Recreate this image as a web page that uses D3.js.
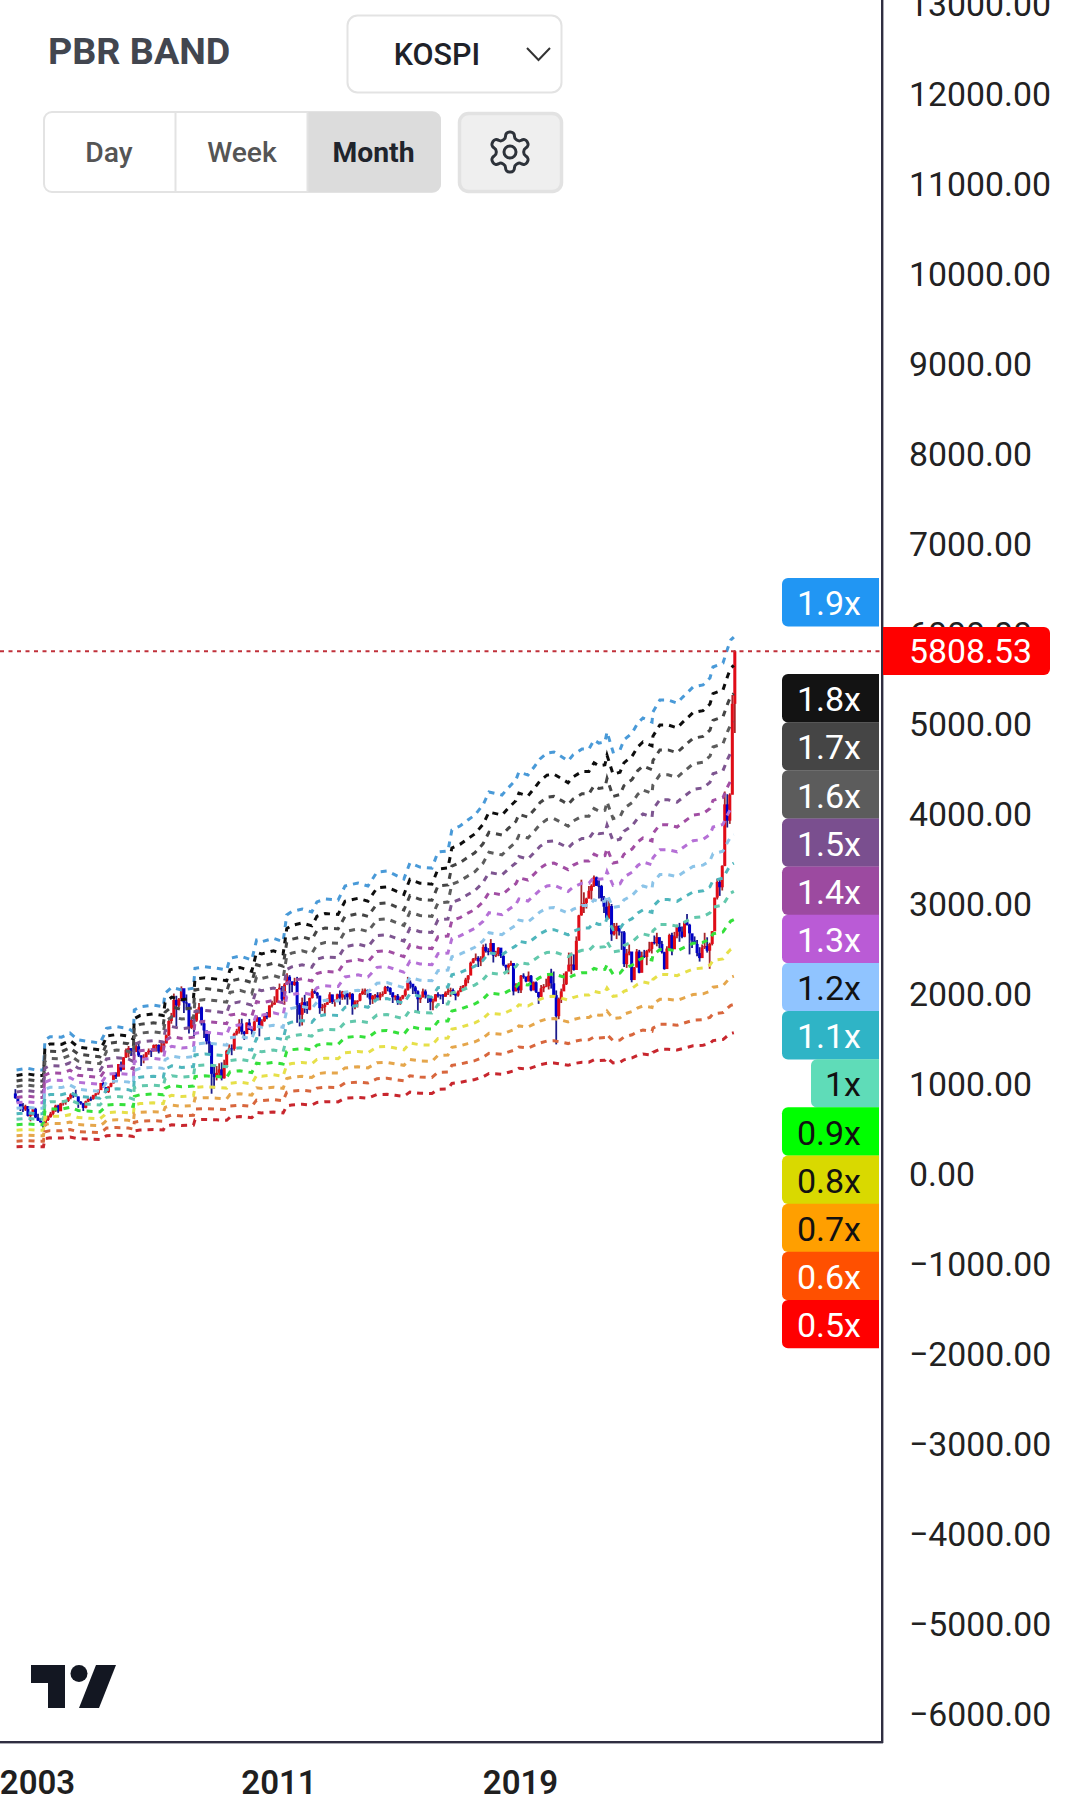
<!DOCTYPE html>
<html><head><meta charset="utf-8">
<script src="https://cdn.jsdelivr.net/npm/d3@7/dist/d3.min.js"></script>
<style>html,body{margin:0;padding:0;background:#fff;overflow:hidden}svg{display:block}text{font-family:Roboto,sans-serif}</style>
</head><body><svg id="c" width="1080" height="1813"></svg>
<script>
// ---------- data ----------
const firstYear = 2002, firstMonth = 4;
const firstOpen = 895;
const closes = [844,796,743,717,754,646,659,725,627,
592,576,535,600,633,670,710,760,697,783,797,811,
848,883,880,862,803,785,735,807,835,834,878,896,
932,1011,965,911,970,1008,1111,1083,1221,1158,1297,1379,
1399,1371,1359,1419,1317,1295,1297,1352,1371,1364,1432,1434,
1360,1417,1452,1542,1700,1743,1933,1873,1946,2064,1906,1897,
1624,1711,1704,1825,1852,1674,1595,1474,1448,1113,1076,1124,
1162,1063,1206,1369,1395,1390,1557,1591,1673,1580,1555,1682,
1602,1594,1692,1741,1641,1698,1759,1742,1872,1882,1904,2051,
2069,1939,2106,2192,2142,2101,2133,1880,1770,1909,1847,1826,
1955,2030,2014,1982,1843,1854,1881,1906,1996,1912,1932,1997,
1961,2026,2005,1964,2001,1863,1914,1926,1997,2030,2044,2011,
1941,1980,1986,1961,1995,2002,2076,2068,2020,1964,1981,1916,
1949,1985,2041,2127,2114,2074,2030,1941,1963,2029,1991,1961,
1912,1917,1996,1994,1983,1970,2016,2034,2043,2008,1983,2026,
2067,2091,2160,2205,2347,2391,2402,2363,2394,2523,2476,2467,
2566,2427,2445,2515,2423,2326,2295,2322,2343,2029,2096,2041,
2204,2195,2140,2203,2041,2130,2024,1967,2063,2083,2087,2197,
2119,1987,1754,1947,2029,2108,2249,2326,2327,2267,2591,2873,
2976,3012,3061,3147,3203,3296,3202,3199,3068,2970,2839,2977,
2663,2699,2757,2695,2685,2332,2451,2472,2155,2293,2472,2236,
2425,2412,2476,2501,2577,2564,2632,2556,2465,2277,2505,2655,
2497,2642,2747,2692,2636,2798,2770,2674,2593,2556,2455,2399,
2517,2532,2481,2556,2697,3071,3245,3186,3424,4107,3926,4214,
5224,5808.53];
const highs = [943,849,790,790,770,756,690,740,736,
670,620,580,625,650,690,735,770,770,790,820,822,
855,896,905,936,860,810,790,815,850,860,880,897,
940,1012,1022,965,975,1015,1115,1130,1222,1250,1298,1395,
1422,1395,1380,1465,1464,1320,1330,1355,1395,1375,1440,1442,
1440,1460,1465,1550,1710,1790,2005,1980,1955,2085,2020,1995,
1890,1740,1730,1830,1900,1860,1690,1590,1580,1450,1190,1200,
1230,1240,1270,1380,1440,1440,1570,1613,1720,1725,1590,1685,
1723,1630,1705,1760,1740,1720,1780,1800,1875,1925,1975,2055,
2116,2090,2122,2230,2210,2110,2180,2190,1900,1960,1990,1920,
1960,2057,2057,2023,1980,1890,1900,1950,2020,1990,1940,2004,
2040,2035,2030,2015,2020,2010,1930,1930,2010,2060,2060,2050,
1970,1990,2000,2020,2020,2030,2090,2090,2075,1985,1985,2000,
1970,1990,2060,2190,2150,2100,2090,2040,1990,2060,2050,1990,
1930,1950,2000,2020,1990,2000,2030,2065,2070,2060,2000,2040,
2090,2100,2180,2210,2360,2400,2450,2420,2420,2550,2560,2510,
2610,2560,2480,2520,2470,2440,2320,2340,2370,2340,2120,2110,
2210,2230,2180,2250,2210,2140,2140,2010,2100,2110,2170,2210,
2280,2250,2040,1960,2060,2230,2250,2460,2460,2440,2640,2880,
3270,3130,3070,3200,3220,3316,3305,3280,3212,3090,3050,3040,
3000,2790,2790,2760,2690,2700,2500,2550,2460,2300,2500,2490,
2470,2490,2490,2580,2580,2650,2680,2620,2590,2470,2530,2670,
2680,2690,2770,2790,2750,2810,2890,2780,2620,2640,2600,2520,
2550,2680,2630,2570,2700,3070,3280,3270,3430,4250,4220,4230,
5322,5820];
const lows = [835,780,700,690,700,640,585,650,620,
590,570,512,532,590,625,650,690,680,700,760,770,
800,830,846,860,735,770,700,730,800,810,825,850,
880,935,960,900,900,965,1005,1055,1085,1140,1160,1290,
1295,1310,1310,1355,1300,1200,1230,1290,1325,1300,1360,1360,
1340,1350,1380,1450,1530,1670,1740,1640,1855,1920,1790,1820,
1560,1610,1530,1690,1780,1650,1510,1440,1340,892,950,1040,
1070,1040,1060,1210,1350,1320,1370,1540,1560,1550,1490,1570,
1600,1550,1590,1695,1530,1640,1690,1720,1740,1850,1880,1920,
2050,1920,1880,2105,2010,2020,2090,1680,1640,1650,1790,1780,
1820,1950,2000,1950,1780,1810,1760,1880,1900,1890,1860,1930,
1880,1935,1940,1880,1940,1770,1830,1850,1920,1990,1990,1960,
1880,1890,1920,1940,1930,1970,2000,2030,1990,1900,1930,1880,
1880,1940,1970,2040,2060,2000,2000,1800,1900,1960,1950,1900,
1820,1820,1920,1960,1940,1890,1970,1990,1970,1990,1930,1970,
2020,2060,2080,2120,2210,2340,2370,2300,2310,2390,2460,2430,
2470,2350,2410,2420,2400,2310,2250,2220,2310,1985,2030,2010,
2010,2170,2130,2140,2030,2040,2010,1890,1970,2020,2080,2050,
2060,1980,1440,1720,1900,2090,2100,2280,2220,2260,2300,2600,
2870,2900,2950,3060,3050,3190,3200,3060,3030,2900,2840,2840,
2590,2650,2610,2650,2490,2300,2290,2430,2130,2180,2300,2230,
2240,2400,2320,2460,2450,2550,2530,2510,2450,2270,2310,2490,
2430,2560,2620,2580,2620,2630,2760,2440,2510,2560,2420,2360,
2400,2500,2460,2280,2540,2700,3050,3090,3150,3420,3850,3890,
4220,4900];

// book value per share (the 1x level)
const bookYears = [2002.29,2002.63,2002.96,2003.18,2003.23,2003.40,2003.78,2004.06,2004.33,2004.72,2005.05,2005.19,2005.27,2005.61,2005.99,2006.16,2006.19,2006.38,2006.82,2007.15,2007.21,2007.43,2007.76,2008.15,2008.20,2008.53,2008.92,2009.25,2009.36,2009.69,2010.08,2010.24,2010.41,2010.80,2011.12,2011.24,2011.40,2011.75,2012.07,2012.24,2012.51,2012.94,2013.17,2013.60,2013.93,2014.23,2014.56,2014.83,2015.12,2015.32,2015.65,2016.05,2016.25,2016.58,2016.71,2016.98,2017.24,2017.47,2017.74,2017.94,2018.37,2018.57,2018.83,2018.93,2019.23,2019.46,2019.63,2019.86,2020.09,2020.36,2020.56,2020.72,2021.02,2021.25,2021.42,2021.58,2021.78,2021.85,2021.95,2022.05,2022.28,2022.41,2022.68,2022.87,2023.04,2023.34,2023.37,2023.60,2023.87,2024.17,2024.36,2024.70,2025.03,2025.26,2025.36,2025.69,2025.85,2025.95,2026.05];
const bookValue = [608,618,608,608,784,803,800,824,784,774,766,813,852,861,852,832,959,978,988,978,1058,1092,1076,1086,1203,1212,1203,1193,1261,1275,1251,1368,1358,1378,1358,1515,1534,1550,1532,1591,1608,1602,1684,1702,1684,1766,1772,1749,1725,1819,1795,1789,1883,1889,2012,2035,2070,2099,2158,2234,2216,2257,2304,2351,2333,2386,2427,2462,2468,2439,2415,2450,2485,2485,2538,2520,2526,2585,2526,2468,2480,2538,2579,2637,2667,2643,2702,2772,2772,2754,2789,2848,2860,2901,2965,2988,3076,3123,3140];

const multiples = [1.9,1.8,1.7,1.6,1.5,1.4,1.3,1.2,1.1,1,0.9,0.8,0.7,0.6,0.5];
const bandLabels = multiples.map(m => m + "x");
const bandLine = ["#4a9ad8","#111111","#444444","#5c5c5c","#7d5490","#a14ea3","#b56fd6","#8cc4e8","#4fb6bc","#62c8ac","#35e03a","#e6e04a","#e5a64c","#d8663c","#c8282e"];
const bandFill = ["#2196f3","#131313","#454545","#5c5c5c","#7a4f8f","#9c4aa0","#ba5bd6","#90c4ff","#2fb4c6","#5fdcb8","#00ff00","#d9d900","#ff9f00","#ff5000","#ff0000"];
const bandText = ["#fff","#fff","#fff","#fff","#fff","#fff","#fff","#111","#fff","#111","#111","#111","#111","#fff","#fff"];
const yTicks = d3.range(-6000,13001,1000);
const xTicks = [2003,2011,2019];
const lastPrice = 5808.53;
const tabs = ["Day","Week","Month"];

// ---------- scales ----------
const svg = d3.select("#c");
const W = 1080, H = 1813, axisX = 882, axisY = 1742;
const x = d3.scaleLinear().domain([2003,2019]).range([38,521]);
const y = d3.scaleLinear().domain([-6000,13000]).range([1714,4]);
const defs = svg.append("defs");
defs.append("clipPath").attr("id","plot").append("rect").attr("width",axisX).attr("height",axisY);
defs.append("filter").attr("id","soft").append("feGaussianBlur").attr("stdDeviation",0.5);
const plot = svg.append("g").attr("clip-path","url(#plot)");
const marks = plot.append("g").attr("filter","url(#soft)");

// ---------- candles ----------
const candles = closes.map((c,i) => ({
  t: firstYear + (firstMonth-1+i)/12,
  o: i ? closes[i-1] : firstOpen, c, h: highs[i], l: lows[i]
}));
const g = marks.append("g");
g.selectAll("line").data(candles).join("line")
 .attr("x1",d=>x(d.t)).attr("x2",d=>x(d.t))
 .attr("y1",d=>y(d.h)).attr("y2",d=>y(d.l))
 .attr("stroke",d=>d.c>=d.o?"#a8282c":"#1c1c8c").attr("stroke-width",1.8);
g.selectAll("rect").data(candles).join("rect")
 .attr("x",d=>x(d.t)-1.5).attr("width",3)
 .attr("y",d=>y(Math.max(d.o,d.c)))
 .attr("height",d=>Math.max(1,Math.abs(y(d.o)-y(d.c))))
 .attr("fill",d=>d.c>=d.o?"#e00818":"#0000c8");

// ---------- bands ----------
const bandPath = d3.line().x(d=>x(d[0])).y(d=>y(d[1]));
marks.append("g").selectAll("path").data(multiples).join("path")
 .attr("d",m=>bandPath(bookYears.map((t,i)=>[t,bookValue[i]*m])))
 .attr("fill","none").attr("stroke",(m,i)=>bandLine[i])
 .attr("stroke-width",3).attr("stroke-dasharray","6 6");

// ---------- last price line ----------
plot.append("line").attr("x1",0).attr("x2",axisX)
 .attr("y1",y(lastPrice)).attr("y2",y(lastPrice))
 .attr("stroke","#c0303a").attr("stroke-width",1.8).attr("stroke-dasharray","4 4.5");

// ---------- axes ----------
const fmt = d3.format(".2f");
const ya = svg.append("g").attr("transform",`translate(${axisX},0)`)
 .call(d3.axisRight(y).tickValues(yTicks).tickFormat(fmt).tickSize(0).tickPadding(27));
ya.select(".domain").remove();
ya.selectAll("text").attr("font-size",33.8).attr("fill","#222").style("font-family","Roboto").attr("dy","0.33em");
const xa = svg.append("g").attr("transform",`translate(-1,${axisY})`)
 .call(d3.axisBottom(x).tickValues(xTicks).tickFormat(d3.format("d")).tickSize(0).tickPadding(29));
xa.select(".domain").remove();
xa.selectAll("text").attr("font-size",33).attr("font-weight",600).attr("fill","#1f1f1f").style("font-family","Roboto");
svg.append("rect").attr("x",axisX-1).attr("y",0).attr("width",2.4).attr("height",axisY+1).attr("fill","#2f2e41");
svg.append("rect").attr("x",0).attr("y",axisY-1).attr("width",axisX+1).attr("height",2.4).attr("fill","#2f2e41");

// ---------- labels ----------
function leftRound(x0,y0,w,h,r){const p=d3.path();p.moveTo(x0+w,y0);p.lineTo(x0+r,y0);p.arcTo(x0,y0,x0,y0+r,r);p.lineTo(x0,y0+h-r);p.arcTo(x0,y0+h,x0+r,y0+h,r);p.lineTo(x0+w,y0+h);p.closePath();return p.toString();}
function rightRound(x0,y0,w,h,r){const p=d3.path();p.moveTo(x0,y0);p.lineTo(x0+w-r,y0);p.arcTo(x0+w,y0,x0+w,y0+r,r);p.lineTo(x0+w,y0+h-r);p.arcTo(x0+w,y0+h,x0+w-r,y0+h,r);p.lineTo(x0,y0+h);p.closePath();return p.toString();}
const labelTop = i => i===0 ? 578 : 674 + (i-1)*48.15;
const lab = svg.append("g").selectAll("g").data(bandLabels).join("g");
lab.append("path").attr("d",(d,i)=>{const l=d==="1x"?811:782;return leftRound(l,labelTop(i),879-l,48.4,6);}).attr("fill",(d,i)=>bandFill[i]);
lab.append("text").attr("x",861).attr("y",(d,i)=>labelTop(i)+25).attr("dy","0.36em").attr("text-anchor","end")
 .attr("font-size",34).attr("fill",(d,i)=>bandText[i]).text(d=>d);
svg.append("path").attr("d",rightRound(883,627,167,48,6)).attr("fill","#ff0000");
svg.append("text").attr("x",909).attr("y",651.5).attr("dy","0.35em").attr("font-size",33.8).attr("fill","#fff").text(lastPrice.toFixed(2));

// ---------- header controls ----------
svg.append("text").attr("x",48).attr("y",64).attr("font-size",37.7).attr("font-weight",700).attr("fill","#42464f").text("PBR BAND");
svg.append("rect").attr("x",347.5).attr("y",15.5).attr("width",214).attr("height",77).attr("rx",10).attr("fill","#fff").attr("stroke","#e3e3e3").attr("stroke-width",2);
svg.append("text").attr("x",437).attr("y",54).attr("dy","0.36em").attr("text-anchor","middle").attr("font-size",30.5).attr("font-weight",500).attr("fill","#1e2229").text("KOSPI");
svg.append("path").attr("d","M527 48L538.500 60L550 48").attr("fill","none").attr("stroke","#333").attr("stroke-width",2);
svg.append("rect").attr("x",44).attr("y",112).attr("width",396).attr("height",80).attr("rx",8).attr("fill","none").attr("stroke","#e3e3e3").attr("stroke-width",2);
svg.append("path").attr("d",rightRound(308,112,133,80,8)).attr("fill","#dcdcdc");
svg.append("line").attr("x1",175.5).attr("x2",175.5).attr("y1",112).attr("y2",192).attr("stroke","#e3e3e3").attr("stroke-width",2);
svg.append("line").attr("x1",307.5).attr("x2",307.5).attr("y1",112).attr("y2",192).attr("stroke","#e3e3e3").attr("stroke-width",2);
svg.selectAll(".tab").data(tabs).join("text").attr("class","tab")
 .attr("x",(d,i)=>[109,242,373.5][i]).attr("y",152).attr("dy","0.36em").attr("text-anchor","middle").attr("font-size",28.3)
 .attr("font-weight",(d,i)=>i===2?700:500).attr("fill",(d,i)=>i===2?"#20242c":"#555").text(d=>d);
svg.append("rect").attr("x",459.5).attr("y",113.5).attr("width",102).attr("height",78).attr("rx",9).attr("fill","#efefef").attr("stroke","#e2e2e2").attr("stroke-width",3.5);
const gear = svg.append("g").attr("transform","translate(486,128) scale(2)").attr("fill","none").attr("stroke","#2d323a").attr("stroke-width",1.5);
gear.append("path").attr("d","M12.22 2h-.44a2 2 0 0 0-2 2v.18a2 2 0 0 1-1 1.73l-.43.25a2 2 0 0 1-2 0l-.15-.08a2 2 0 0 0-2.73.73l-.22.38a2 2 0 0 0 .73 2.73l.15.1a2 2 0 0 1 1 1.72v.51a2 2 0 0 1-1 1.74l-.15.09a2 2 0 0 0-.73 2.73l.22.38a2 2 0 0 0 2.73.73l.15-.08a2 2 0 0 1 2 0l.43.25a2 2 0 0 1 1 1.73V20a2 2 0 0 0 2 2h.44a2 2 0 0 0 2-2v-.18a2 2 0 0 1 1-1.73l.43-.25a2 2 0 0 1 2 0l.15.08a2 2 0 0 0 2.73-.73l.22-.39a2 2 0 0 0-.73-2.73l-.15-.08a2 2 0 0 1-1-1.74v-.5a2 2 0 0 1 1-1.74l.15-.09a2 2 0 0 0 .73-2.73l-.22-.38a2 2 0 0 0-2.73-.73l-.15.08a2 2 0 0 1-2 0l-.43-.25a2 2 0 0 1-1-1.73V4a2 2 0 0 0-2-2z");
gear.append("circle").attr("cx",12).attr("cy",12).attr("r",3);

// ---------- logo ----------
const logo = svg.append("g").attr("fill","#131722");
logo.append("path").attr("d","M31 1665H65V1708H48V1683H31Z");
logo.append("circle").attr("cx",79).attr("cy",1673.5).attr("r",8.5);
logo.append("path").attr("d","M96 1665H116L99 1708H79Z");
</script></body></html>
